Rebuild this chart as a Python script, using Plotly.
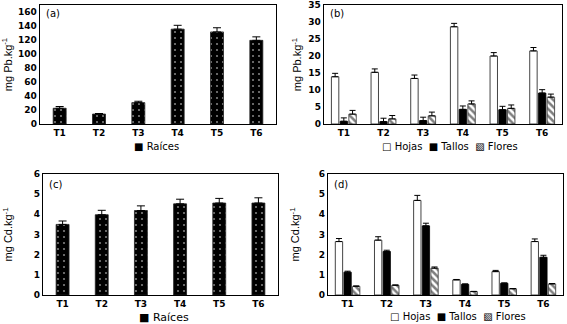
import plotly.graph_objects as go

categories = ["T1", "T2", "T3", "T4", "T5", "T6"]

# (a) Pb roots
a_raices = [22.5, 14.2, 30.5, 135.5, 131.5, 119.5]
a_raices_err = [2.5, 0.8, 2.0, 5.5, 6.0, 5.0]

# (b) Pb aerial parts
b_hojas = [13.9, 15.2, 13.4, 28.6, 20.0, 21.5]
b_hojas_err = [1.0, 1.0, 1.0, 1.0, 1.0, 1.0]
b_tallos = [0.8, 0.7, 1.0, 4.3, 4.2, 9.1]
b_tallos_err = [1.0, 1.0, 1.0, 1.0, 1.0, 1.0]
b_flores = [2.9, 1.5, 2.4, 5.9, 4.6, 7.9]
b_flores_err = [1.1, 1.0, 1.1, 0.9, 1.0, 0.9]

# (c) Cd roots
c_raices = [3.5, 3.98, 4.19, 4.52, 4.56, 4.56]
c_raices_err = [0.17, 0.22, 0.23, 0.23, 0.23, 0.26]

# (d) Cd aerial parts
d_hojas = [2.65, 2.72, 4.69, 0.75, 1.16, 2.65]
d_hojas_err = [0.15, 0.17, 0.25, 0.02, 0.06, 0.13]
d_tallos = [1.13, 2.16, 3.43, 0.53, 0.58, 1.87]
d_tallos_err = [0.05, 0.06, 0.13, 0.02, 0.02, 0.10]
d_flores = [0.43, 0.48, 1.33, 0.17, 0.31, 0.55]
d_flores_err = [0.02, 0.02, 0.06, 0.01, 0.01, 0.02]

legend_raices = "■ Raíces"
legend_parts = "□ Hojas  ■ Tallos  ▧ Flores"

fig = go.Figure()

def err(vals, w):
    return dict(type="data", array=vals, arrayminus=[0]*len(vals), symmetric=False,
                color="black", thickness=1, width=w)

raices_marker = dict(color="black", line=dict(color="#222", width=0.8),
                     pattern=dict(shape=".", fgcolor="white", bgcolor="black", size=6, solidity=0.1))
hojas_marker = dict(color="white", line=dict(color="#444", width=1))
tallos_marker = dict(color="black", line=dict(color="black", width=0.8))
flores_marker = dict(color="white", line=dict(color="#333", width=0.8),
                     pattern=dict(shape="\\", fgcolor="black", bgcolor="white", size=5, solidity=0.5))

# (a)
fig.add_trace(go.Bar(x=categories, y=a_raices, error_y=err(a_raices_err, 4), name="Raíces",
                     marker=raices_marker, xaxis="x", yaxis="y", width=0.33))
# (b)
for vals, e, nm, mk in [(b_hojas, b_hojas_err, "Hojas", hojas_marker),
                        (b_tallos, b_tallos_err, "Tallos", tallos_marker),
                        (b_flores, b_flores_err, "Flores", flores_marker)]:
    fig.add_trace(go.Bar(x=categories, y=vals, error_y=err(e, 3), name=nm, marker=mk,
                         xaxis="x2", yaxis="y2", offsetgroup=nm))
# (c)
fig.add_trace(go.Bar(x=categories, y=c_raices, error_y=err(c_raices_err, 4), name="Raíces",
                     marker=raices_marker, xaxis="x3", yaxis="y3", width=0.33))
# (d)
for vals, e, nm, mk in [(d_hojas, d_hojas_err, "Hojas", hojas_marker),
                        (d_tallos, d_tallos_err, "Tallos", tallos_marker),
                        (d_flores, d_flores_err, "Flores", flores_marker)]:
    fig.add_trace(go.Bar(x=categories, y=vals, error_y=err(e, 3), name=nm, marker=mk,
                         xaxis="x4", yaxis="y4", offsetgroup=nm))

W, H = 567, 324
tickfont = dict(family="DejaVu Sans", size=9, color="black", weight="bold")
titlefont = dict(family="Liberation Sans Narrow, Liberation Sans, Arial", size=11, color="black")

def xax(x0, x1, anchor):
    return dict(domain=[x0 / W, x1 / W], anchor=anchor, showline=True, linecolor="black",
                linewidth=1.3, mirror=True, ticks="", tickfont=tickfont, showgrid=False,
                zeroline=False, automargin=False)

def yax(y0, y1, anchor, rng, dtick, title, standoff):
    return dict(domain=[1 - y1 / H, 1 - y0 / H], anchor=anchor, range=rng, dtick=dtick,
                showline=True, linecolor="black", linewidth=1.3, mirror=True, ticks="",
                tickfont=tickfont, showgrid=False, zeroline=False, automargin=False,
                title=dict(text=title, font=titlefont, standoff=standoff))

fig.update_layout(
    width=W, height=H, margin=dict(l=0, r=0, t=0, b=0, autoexpand=False),
    paper_bgcolor="white", plot_bgcolor="white",
    barmode="group", bargap=0.34, bargroupgap=0.15,
    showlegend=False,
    xaxis=xax(40, 276, "y"),
    yaxis=yax(5, 124, "x", [0, 170], 20, "mg Pb.kg<sup>-1</sup>", 4),
    xaxis2=xax(324, 562, "y2"),
    yaxis2=yax(5, 124, "x2", [0, 35], 5, "mg Pb.kg<sup>-1</sup>", 4),
    xaxis3=xax(43, 278, "y3"),
    yaxis3=yax(174, 295, "x3", [0, 6], 1, "mg Cd.kg<sup>-1</sup>", 18),
    xaxis4=xax(328, 563, "y4"),
    yaxis4=yax(174, 295, "x4", [0, 6], 1, "mg Cd.kg<sup>-1</sup>", 16),
)

# legends (as text keys below each panel)
leg = [(legend_raices, 156, 146, 10), (legend_parts, 450, 146, 10),
       (legend_raices, 164, 317, 11), (legend_parts, 458, 316, 10)]
for txt, px, py, fs in leg:
    fig.add_annotation(text=txt, x=px / W, y=1 - py / H, xref="paper", yref="paper",
                       xanchor="center", yanchor="middle", showarrow=False,
                       font=dict(family="DejaVu Sans", size=fs, color="black"))

labels = [("(a)", 44, 14), ("(b)", 328, 14), ("(c)", 47, 184), ("(d)", 332, 184)]
for txt, px, py in labels:
    fig.add_annotation(text=txt, x=px / W, y=1 - py / H, xref="paper", yref="paper",
                       xanchor="left", yanchor="middle", showarrow=False,
                       font=dict(family="DejaVu Sans", size=10, color="black"))

fig.write_html("out.html", config={"displayModeBar": False, "staticPlot": True},
               post_script="document.body.style.margin='0';document.body.style.padding='0';")
